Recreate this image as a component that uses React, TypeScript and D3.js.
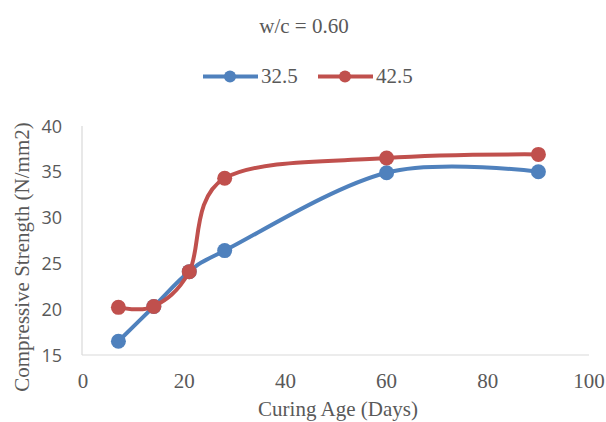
import React from "react";
import * as d3 from "d3";

const days = [7, 14, 21, 28, 60, 90];
const series325 = [16.5, 20.3, 24.1, 26.4, 34.9, 35.0];
const series425 = [20.2, 20.3, 24.1, 34.3, 36.5, 36.9];
const seriesNames = ["32.5", "42.5"];
const seriesColors = ["#4f81bd", "#c0504d"];
const xTicks = [0, 20, 40, 60, 80, 100];
const yTicks = [15, 20, 25, 30, 35, 40];
const title = "w/c = 0.60";
const xTitle = "Curing Age (Days)";
const yTitle = "Compressive Strength (N/mm2)";

export default function App() {
  const W = 606, H = 422;
  const x = d3.scaleLinear().domain([0, 100]).range([83, 589]);
  const y = d3.scaleLinear().domain([15, 40]).range([355, 126]);
  const line = d3
    .line<[number, number]>()
    .x((d) => x(d[0]))
    .y((d) => y(d[1]))
    .curve(d3.curveCatmullRom.alpha(0));
  const all = [series325, series425];
  const serif = "'Liberation Serif', 'Times New Roman', serif";
  const sans = "'Open Sans', 'Liberation Sans', sans-serif";
  const legendX = [203, 318];
  const fs = 21;
  return (
    <svg
      width={W}
      height={H}
      style={{ position: "absolute", left: 0, top: 0, background: "#fff" }}
    >
      <rect x={0} y={0} width={W} height={H} fill="#fff" />
      <text x={304} y={33} textAnchor="middle" fontFamily={serif} fontSize={fs} fill="#595959">
        {title}
      </text>
      {seriesNames.map((n, i) => (
        <g key={n}>
          <line x1={legendX[i]} x2={legendX[i] + 55} y1={76.5} y2={76.5} stroke={seriesColors[i]} strokeWidth={4} />
          <circle cx={legendX[i] + 27} cy={76.5} r={6} fill={seriesColors[i]} />
          <text x={legendX[i] + 58} y={83} fontFamily={serif} fontSize={fs} fill="#595959">
            {n}
          </text>
        </g>
      ))}
      <line x1={x(0) - 1} x2={x(0) - 1} y1={y(40)} y2={y(15)} stroke="#d9d9d9" strokeWidth={1.2} />
      <line x1={x(0) - 1} x2={x(100)} y1={y(15)} y2={y(15)} stroke="#d9d9d9" strokeWidth={1.2} />
      {yTicks.map((t) => (
        <text key={t} x={62} y={y(t) + 6.5} textAnchor="end" fontFamily={sans} fontSize={18} fill="#595959">
          {t}
        </text>
      ))}
      {xTicks.map((t) => (
        <text key={t} x={x(t)} y={388} textAnchor="middle" fontFamily={serif} fontSize={fs} fill="#595959">
          {t}
        </text>
      ))}
      <text x={338} y={416} textAnchor="middle" fontFamily={serif} fontSize={fs} fill="#595959">
        {xTitle}
      </text>
      <text
        transform={`translate(29, 257) rotate(-90)`}
        textAnchor="middle"
        fontFamily={serif}
        fontSize={fs}
        fill="#595959"
      >
        {yTitle}
      </text>
      {all.map((vals, i) => {
        const pts = days.map((d, j) => [d, vals[j]] as [number, number]);
        return (
          <g key={i}>
            <path d={line(pts) || ""} fill="none" stroke={seriesColors[i]} strokeWidth={4} strokeLinecap="round" />
            {pts.map((p, j) => (
              <circle key={j} cx={x(p[0])} cy={y(p[1])} r={7.5} fill={seriesColors[i]} />
            ))}
          </g>
        );
      })}
    </svg>
  );
}
